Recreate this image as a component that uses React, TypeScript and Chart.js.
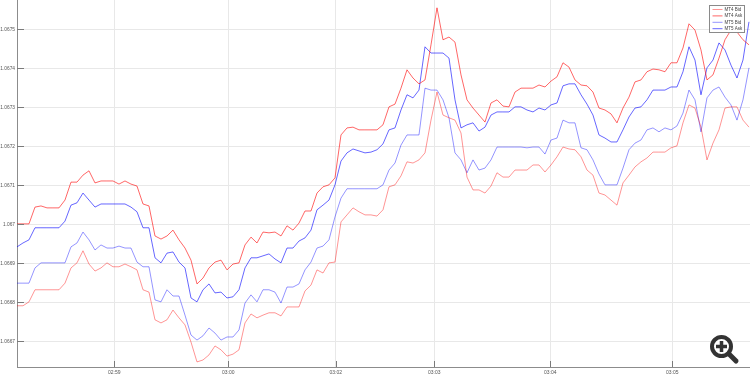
import React, { useEffect, useRef } from 'react';
import { Chart, registerables } from 'chart.js';

Chart.register(...registerables);

// Sample index positions of the minute ticks and their labels
const xTickPositions = [16.22, 35.22, 53.12, 69.55, 88.88, 109.22];
const xTickLabels = ['02:59', '03:00', '03:02', '03:03', '03:04', '03:05'];
const yTickValues = [1.0667, 1.0668, 1.0669, 1.067, 1.0671, 1.0672, 1.0673, 1.0674, 1.0675];
const seriesLabels = ['MT4 Bid', 'MT4 Ask', 'MT5 Bid', 'MT5 Ask'];

const mt4Bid = [
  1.066791, 1.066791, 1.066801, 1.066832, 1.066832, 1.066832, 1.066832, 1.066832, 1.066849, 1.066888,
  1.066901, 1.066932, 1.066898, 1.06688, 1.066888, 1.066901, 1.066891, 1.066891, 1.066898, 1.066891,
  1.066883, 1.066832, 1.066826, 1.066755, 1.066747, 1.066755, 1.06678, 1.06676, 1.066742, 1.066698,
  1.066647, 1.066652, 1.066665, 1.066688, 1.066678, 1.066662, 1.066667, 1.066678, 1.066747, 1.06677,
  1.06676, 1.066767, 1.066773, 1.066773, 1.066765, 1.066788, 1.066788, 1.066788, 1.066829, 1.066844,
  1.066883, 1.066875, 1.066901, 1.066903, 1.067006, 1.067024, 1.067042, 1.067032, 1.067024, 1.067024,
  1.067021, 1.067037, 1.067096, 1.067101, 1.067124, 1.06716, 1.067157, 1.067165, 1.067183, 1.067267,
  1.067339, 1.06728, 1.067273, 1.067267, 1.067234, 1.067121, 1.067088, 1.067088, 1.06708, 1.067098,
  1.067132, 1.067121, 1.067121, 1.067139, 1.067139, 1.067139, 1.067152, 1.067152, 1.067134, 1.067152,
  1.067173, 1.067198, 1.067193, 1.067191, 1.067173, 1.067139, 1.067126, 1.06708, 1.067075, 1.067062,
  1.067049, 1.067106, 1.067126, 1.067147, 1.06716, 1.06717, 1.067185, 1.067185, 1.067185, 1.067196,
  1.067201, 1.06726, 1.067306, 1.067298, 1.067249, 1.067165, 1.067208, 1.067242, 1.067298, 1.067301,
  1.067301, 1.067267, 1.067249,
];

const mt4Ask = [
  1.067001, 1.067001, 1.067001, 1.067044, 1.067047, 1.067042, 1.067042, 1.067042, 1.067062, 1.067108,
  1.067108, 1.067126, 1.067137, 1.067106, 1.067111, 1.067111, 1.067111, 1.067103, 1.067111, 1.067103,
  1.067098, 1.067052, 1.067047, 1.06697, 1.066962, 1.06697, 1.066985, 1.06696, 1.066939, 1.066908,
  1.066847, 1.066862, 1.066888, 1.066903, 1.066908, 1.066883, 1.066898, 1.066901, 1.066947, 1.066967,
  1.066952, 1.06698, 1.066978, 1.06698, 1.06697, 1.066996, 1.066985, 1.067003, 1.067034, 1.067034,
  1.06708, 1.067096, 1.067101, 1.067119, 1.067229, 1.067247, 1.067249, 1.067242, 1.067242, 1.067242,
  1.067242, 1.067255, 1.067301, 1.067308, 1.067349, 1.067396, 1.067375, 1.06736, 1.06737, 1.06746,
  1.067555, 1.067473, 1.06748, 1.067467, 1.067383, 1.067319, 1.067298, 1.06728, 1.067262, 1.067311,
  1.067319, 1.067303, 1.067301, 1.067339, 1.067349, 1.067349, 1.067349, 1.067357, 1.067352, 1.067367,
  1.067378, 1.067414, 1.067403, 1.06737, 1.067357, 1.067355, 1.067339, 1.067298, 1.067293, 1.067283,
  1.06726, 1.067298, 1.067326, 1.067365, 1.06737, 1.067391, 1.067398, 1.067396, 1.067391, 1.067414,
  1.067414, 1.067452, 1.067514, 1.067498, 1.067447, 1.06737, 1.067383, 1.067426, 1.067473, 1.067498,
  1.067493, 1.067473, 1.06746,
];

const mt5Bid = [
  1.066849, 1.066849, 1.066849, 1.066888, 1.066901, 1.066901, 1.066901, 1.066901, 1.066901, 1.066942,
  1.066952, 1.06698, 1.06696, 1.066934, 1.066947, 1.066939, 1.066939, 1.066944, 1.066939, 1.066939,
  1.066903, 1.066891, 1.066891, 1.066806, 1.066801, 1.066832, 1.066816, 1.066816, 1.066767, 1.066716,
  1.066703, 1.066714, 1.066734, 1.066721, 1.066703, 1.066711, 1.066711, 1.066729, 1.066798, 1.066819,
  1.066801, 1.066832, 1.066832, 1.066826, 1.066798, 1.066839, 1.066839, 1.066847, 1.066883, 1.066903,
  1.066939, 1.066944, 1.06696, 1.067019, 1.067067, 1.067091, 1.067091, 1.067091, 1.067091, 1.067091,
  1.067091, 1.067101, 1.067139, 1.067157, 1.067203, 1.067229, 1.067229, 1.067229, 1.067349, 1.067344,
  1.067344, 1.067319, 1.067273, 1.067183, 1.067165, 1.067132, 1.067165, 1.067139, 1.067144, 1.067165,
  1.067198, 1.067198, 1.067198, 1.067198, 1.067198, 1.067196, 1.067198, 1.067198, 1.06718, 1.067216,
  1.067221, 1.067267, 1.06726, 1.06726, 1.067196, 1.067191, 1.067165, 1.067129, 1.067101, 1.067101,
  1.067101, 1.067144, 1.067191, 1.067208, 1.067216, 1.067242, 1.067247, 1.067237, 1.067247, 1.067242,
  1.067252, 1.067285, 1.067344, 1.067319, 1.067237, 1.067324, 1.067344, 1.067352, 1.067326, 1.067306,
  1.067267, 1.067319, 1.067401,
];

const mt5Ask = [
  1.066942, 1.066952, 1.06696, 1.066991, 1.066991, 1.066991, 1.066991, 1.066991, 1.067008, 1.067049,
  1.067055, 1.06708, 1.067062, 1.067044, 1.067052, 1.067052, 1.067052, 1.067052, 1.067052, 1.067044,
  1.067032, 1.066991, 1.066991, 1.066914, 1.066901, 1.066926, 1.066929, 1.066903, 1.066888, 1.066811,
  1.066801, 1.066832, 1.066847, 1.066824, 1.066826, 1.066811, 1.066814, 1.066832, 1.066888, 1.066914,
  1.066914, 1.066919, 1.066924, 1.066911, 1.066901, 1.066939, 1.066939, 1.066957, 1.066965, 1.066985,
  1.067037, 1.067049, 1.067062, 1.067101, 1.067162, 1.067183, 1.067193, 1.067188, 1.067183, 1.067185,
  1.067191, 1.067206, 1.067242, 1.067247, 1.067293, 1.067332, 1.067324, 1.067344, 1.067455, 1.067439,
  1.067439, 1.067439, 1.067426, 1.067319, 1.067247, 1.067255, 1.06726, 1.067239, 1.067249, 1.06728,
  1.067288, 1.067288, 1.067288, 1.067301, 1.067301, 1.067293, 1.067288, 1.067298, 1.067293, 1.067306,
  1.067311, 1.067355, 1.06736, 1.06736, 1.067332, 1.067308, 1.06728, 1.067229, 1.067221, 1.067211,
  1.067211, 1.067242, 1.067275, 1.067298, 1.067301, 1.067319, 1.067344, 1.067344, 1.067344, 1.067352,
  1.067352, 1.067391, 1.067455, 1.067421, 1.067332, 1.067401, 1.067421, 1.067465, 1.067447, 1.067408,
  1.067375, 1.067421, 1.067519,
];

const seriesColors = [
  'rgba(255,0,0,0.42)',
  'rgba(255,0,0,0.6)',
  'rgba(0,0,255,0.42)',
  'rgba(0,0,255,0.6)',
];

const FONT = "'Liberation Sans', Arial, sans-serif";

const decorPlugin = {
  id: 'decor',
  afterDraw(chart: any) {
    const ctx = chart.ctx as CanvasRenderingContext2D;
    const area = chart.chartArea;
    const xs = chart.scales.x;
    const ys = chart.scales.y;
    ctx.save();
    // inward tick marks
    ctx.strokeStyle = '#7a7a7a';
    ctx.lineWidth = 1;
    ctx.beginPath();
    ys.ticks.forEach((t: any) => {
      const py = Math.round(ys.getPixelForValue(t.value)) + 0.5;
      ctx.moveTo(area.left, py);
      ctx.lineTo(area.left + 7, py);
    });
    xs.ticks.forEach((t: any) => {
      const px = Math.round(xs.getPixelForValue(t.value)) + 0.5;
      ctx.moveTo(px, area.bottom);
      ctx.lineTo(px, area.bottom - 6);
    });
    ctx.stroke();

    // legend box
    const bx = 709.5, by = 5.5, bw = 35, bh = 27;
    ctx.fillStyle = '#ffffff';
    ctx.fillRect(bx, by, bw, bh);
    ctx.strokeStyle = '#8a8a8a';
    ctx.strokeRect(bx, by, bw, bh);
    ctx.font = `4.5px ${FONT}`;
    ctx.textBaseline = 'middle';
    ctx.textAlign = 'left';
    chart.data.datasets.forEach((ds: any, i: number) => {
      const ry = by + 4 + i * 6.4;
      ctx.strokeStyle = ds.borderColor;
      ctx.beginPath();
      ctx.moveTo(bx + 3, ry);
      ctx.lineTo(bx + 13, ry);
      ctx.stroke();
      ctx.fillStyle = '#444';
      ctx.fillText(ds.label, bx + 15, ry);
    });
    ctx.restore();
  },
};

export default function App() {
  const ref = useRef<HTMLCanvasElement>(null);
  useEffect(() => {
    const toPts = (arr: number[]) => arr.map((v, i) => ({ x: i, y: v }));
    const all = [mt4Bid, mt4Ask, mt5Bid, mt5Ask];
    const chart = new Chart(ref.current as HTMLCanvasElement, {
      type: 'line',
      data: {
        datasets: all.map((arr, i) => ({
          label: seriesLabels[i],
          data: toPts(arr),
          borderColor: seriesColors[i],
          backgroundColor: seriesColors[i],
          borderWidth: 1,
          pointRadius: 0,
          tension: 0,
          fill: false,
        })),
      },
      options: {
        responsive: false,
        animation: false,
        devicePixelRatio: 1,
        layout: { padding: 0 },
        plugins: { legend: { display: false }, tooltip: { enabled: false } },
        scales: {
          x: {
            type: 'linear',
            min: 0,
            max: 122.17,
            afterBuildTicks: (s: any) => {
              s.ticks = xTickPositions.map((v) => ({ value: v }));
            },
            afterFit: (s: any) => {
              s.height = 9;
              s.paddingLeft = 0;
              s.paddingRight = 0;
            },
            ticks: {
              callback: (_v: any, i: number) => xTickLabels[i],
              autoSkip: false,
              maxRotation: 0,
              font: { size: 5, family: FONT },
              color: '#555',
              padding: 3,
            },
            grid: { color: '#e8e8e8', drawTicks: false },
            border: { color: '#8c8c8c' },
          },
          y: {
            type: 'linear',
            min: 1.066634,
            max: 1.067575,
            afterBuildTicks: (s: any) => {
              s.ticks = yTickValues.map((v) => ({ value: v }));
            },
            afterFit: (s: any) => {
              s.width = 17;
              s.paddingTop = 0;
              s.paddingBottom = 0;
            },
            ticks: {
              callback: (v: any) => String(Number(Number(v).toFixed(4))),
              font: { size: 4.8, family: FONT },
              color: '#555',
              padding: 2,
            },
            grid: { color: '#e8e8e8', drawTicks: false },
            border: { color: '#8c8c8c' },
          },
        },
      },
      plugins: [decorPlugin],
    } as any);
    return () => chart.destroy();
  }, []);

  return (
    <div style={{ position: 'fixed', left: 0, top: 0, width: 750, height: 376, background: '#fff' }}>
      <canvas ref={ref} width={750} height={376} style={{ display: 'block' }} />
      <svg
        width={40}
        height={40}
        style={{ position: 'absolute', left: 704, top: 330 }}
        viewBox="704 330 40 40"
      >
        <line x1={729} y1={354} x2={736} y2={361} stroke="#333" strokeWidth={5} strokeLinecap="round" />
        <circle cx={721.5} cy={346.5} r={9.5} fill="#fff" stroke="#333" strokeWidth={4} />
        <line x1={716} y1={346.5} x2={727} y2={346.5} stroke="#333" strokeWidth={3.5} />
        <line x1={721.5} y1={341} x2={721.5} y2={352} stroke="#333" strokeWidth={3.5} />
      </svg>
    </div>
  );
}
